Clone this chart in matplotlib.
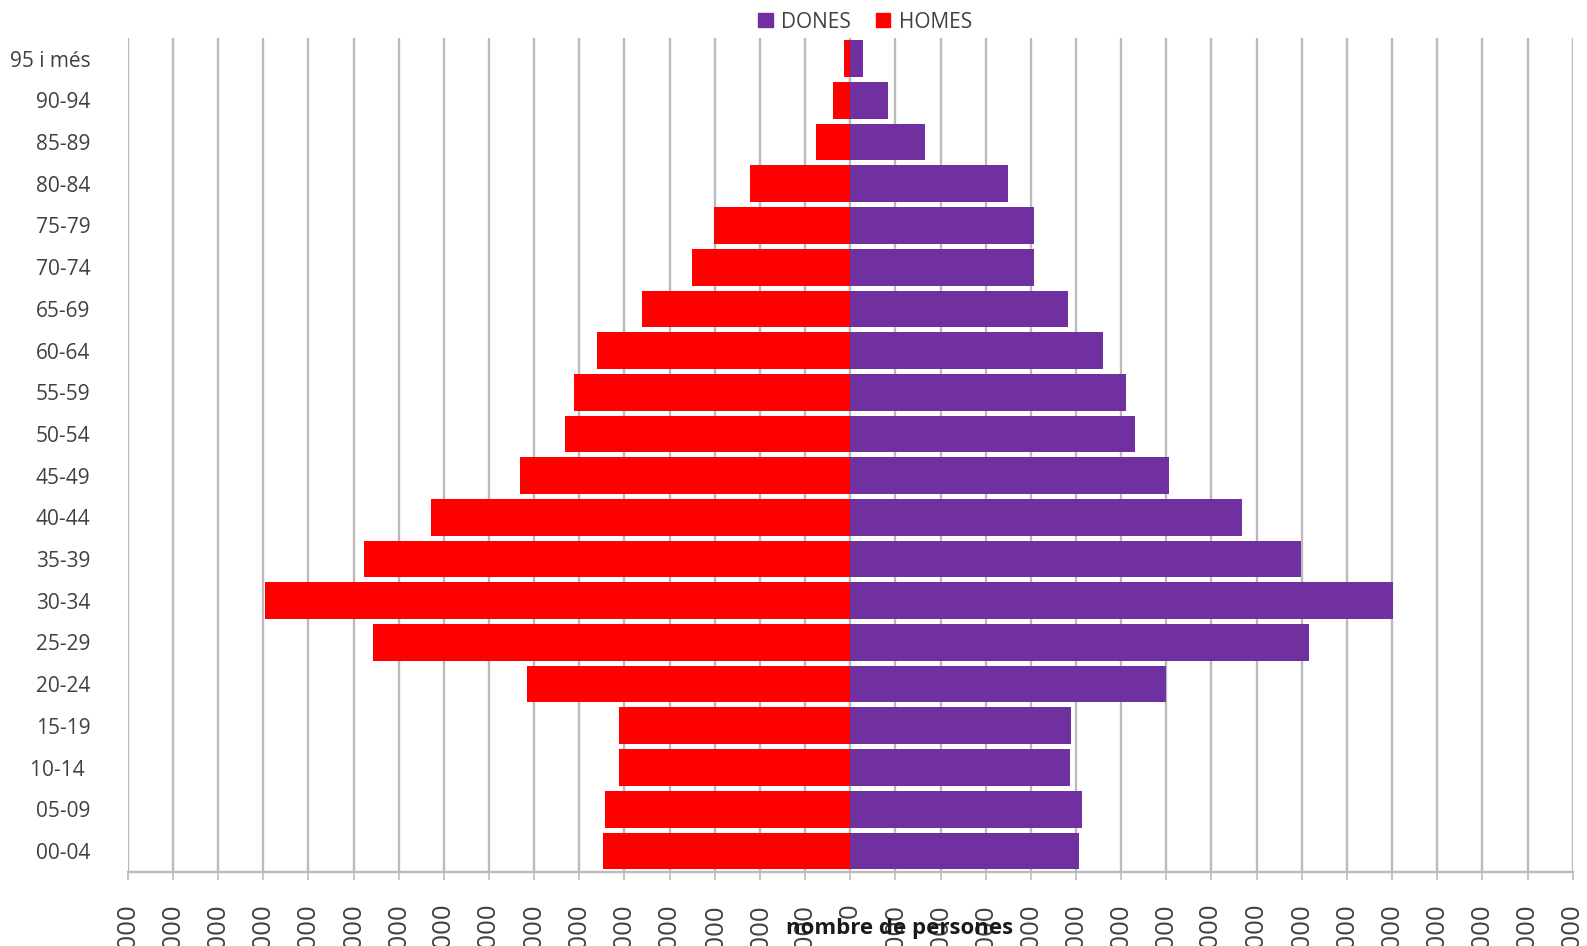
import numpy as np
import matplotlib.pyplot as plt
from matplotlib.patches import Patch
from matplotlib.ticker import MultipleLocator, FuncFormatter

plt.rcParams['font.family'] = ['Open Sans', 'DejaVu Sans']

# grups d'edat (de baix a dalt)
edats = ['00-04', '05-09', '10-14 ', '15-19', '20-24', '25-29', '30-34', '35-39',
         '40-44', '45-49', '50-54', '55-59', '60-64', '65-69', '70-74', '75-79',
         '80-84', '85-89', '90-94', '95 i més']

dones = [25350, 25650, 24300, 24500, 34950, 50750, 60050, 49950, 43400, 35300,
         31500, 30550, 27950, 24150, 20300, 20300, 17450, 8300, 4200, 1460]

homes = [27430, 27130, 25580, 25580, 35800, 52800, 64800, 53850, 46450, 36550,
         31550, 30600, 28050, 23060, 17520, 15080, 11130, 3780, 1930, 650]

color_dones = '#7030A0'
color_homes = '#FF0000'
grid_color = '#BBBBBB'
text_color = '#404040'

fig = plt.figure(figsize=(15.87, 9.46), dpi=100)
ax = fig.add_axes([0.0805, 0.0785, 0.9105, 0.8815])

y = np.arange(len(edats))
ax.barh(y, -np.array(homes), height=0.88, color=color_homes, zorder=3)
ax.barh(y, dones, height=0.88, color=color_dones, zorder=3)

ax.set_xlim(-80000, 80000)
ax.set_ylim(-0.5, len(edats) - 0.5)
ax.xaxis.set_major_locator(MultipleLocator(5000))
ax.xaxis.set_major_formatter(FuncFormatter(lambda v, p: '%d' % abs(round(v))))
ax.grid(axis='x', color=grid_color, linewidth=1.7, zorder=0)
ax.set_axisbelow(True)

ax.set_yticks(y)
ax.set_yticklabels(edats)
ax.tick_params(axis='y', length=0, pad=27, labelsize=15, labelcolor=text_color)
ax.tick_params(axis='x', length=6, width=1.2, color=grid_color, pad=17,
               labelsize=18.5, labelcolor=text_color, labelrotation=90)
for lab in ax.get_xticklabels():
    lab.set_verticalalignment('top')

for s in ['top', 'right', 'left']:
    ax.spines[s].set_visible(False)
ax.spines['bottom'].set_color(grid_color)
ax.spines['bottom'].set_linewidth(1.7)

fig.text(900 / 1587, 1 - 928 / 946, 'nombre de persones', ha='center', va='center',
         fontsize=16, fontweight='bold', color='#1a1a1a')

handles = [Patch(color=color_dones, label='DONES'), Patch(color=color_homes, label='HOMES')]
fig.legend(handles=handles, loc='center', bbox_to_anchor=(865 / 1587, 1 - 22 / 946),
           ncol=2, frameon=False, fontsize=15, handlelength=0.7, handleheight=0.7,
           handletextpad=0.4, columnspacing=1.2, labelcolor=text_color)

fig.savefig('out.png', dpi=100)
